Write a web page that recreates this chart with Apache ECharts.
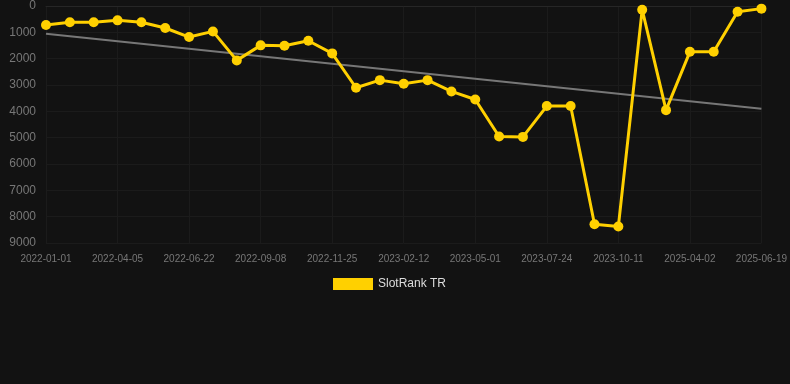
<!DOCTYPE html>
<html>
<head>
<meta charset="utf-8">
<script src="https://cdn.jsdelivr.net/npm/echarts@6/dist/echarts.min.js"></script>
<style>
html,body{margin:0;padding:0;background:#121212;}
#main{width:790px;height:384px;}
</style>
</head>
<body>
<div id="main"></div>
<script>
const categories = [
  '2022-01-01','2022-02-02','2022-03-04','2022-04-05','2022-05-02','2022-05-28','2022-06-22','2022-07-18','2022-08-13','2022-09-08',
  '2022-10-04','2022-10-30','2022-11-25','2022-12-21','2023-01-17','2023-02-12','2023-03-10','2023-04-05','2023-05-01','2023-05-28',
  '2023-06-27','2023-07-24','2023-08-19','2023-09-15','2023-10-11','2024-12-01','2025-02-10','2025-04-02','2025-04-28','2025-05-24','2025-06-19'
];
const slotRankTR = [
  720, 620, 620, 545, 620, 835, 1180, 965, 2065, 1495,
  1510, 1320, 1800, 3105, 2815, 2955, 2815, 3245, 3550, 4955,
  4970, 3800, 3800, 8290, 8375, 140, 3955, 1740, 1740, 215, 100
];
const trendEnds = [1050, 3905];
const yTicks = [0, 1000, 2000, 3000, 4000, 5000, 6000, 7000, 8000, 9000];

const trendData = categories.map((c, i) =>
  i === 0 ? trendEnds[0] : (i === categories.length - 1 ? trendEnds[1] : null));

const chart = echarts.init(document.getElementById('main'));
chart.setOption({
  backgroundColor: '#121212',
  animation: false,
  grid: { left: 46, right: 28, top: 6, bottom: 141, containLabel: false },
  legend: {
    data: ['SlotRank TR'],
    top: 273,
    left: 328,
    itemWidth: 40,
    itemHeight: 12,
    icon: 'rect',
    textStyle: { color: '#dddddd', fontSize: 12, fontFamily: 'Liberation Sans, Arial, sans-serif' }
  },
  xAxis: {
    type: 'category',
    data: categories,
    boundaryGap: false,
    axisLine: { lineStyle: { color: '#262626' } },
    axisTick: { show: false },
    axisLabel: {
      color: '#777777', fontSize: 10, interval: 2, margin: 11,
      fontFamily: 'Liberation Sans, Arial, sans-serif'
    },
    splitLine: { show: true, interval: 2, lineStyle: { color: '#1b1b1b', width: 1 } }
  },
  yAxis: {
    type: 'value',
    inverse: true,
    min: yTicks[0],
    max: yTicks[yTicks.length - 1],
    interval: 1000,
    axisLine: { show: false },
    axisTick: { show: false },
    axisLabel: {
      color: '#777777', fontSize: 12, margin: 10,
      fontFamily: 'Liberation Sans, Arial, sans-serif',
      formatter: v => String(v)
    },
    splitLine: { lineStyle: { color: '#1b1b1b', width: 1 } }
  },
  series: [
    {
      name: 'Trend',
      type: 'line',
      data: trendData,
      connectNulls: true,
      symbol: 'none',
      lineStyle: { color: '#777777', width: 2 },
      silent: true,
      z: 1
    },
    {
      name: 'SlotRank TR',
      type: 'line',
      data: slotRankTR,
      symbol: 'circle',
      symbolSize: 10,
      itemStyle: { color: '#ffd000' },
      lineStyle: { color: '#ffd000', width: 3 },
      z: 2
    }
  ]
});
</script>
</body>
</html>
